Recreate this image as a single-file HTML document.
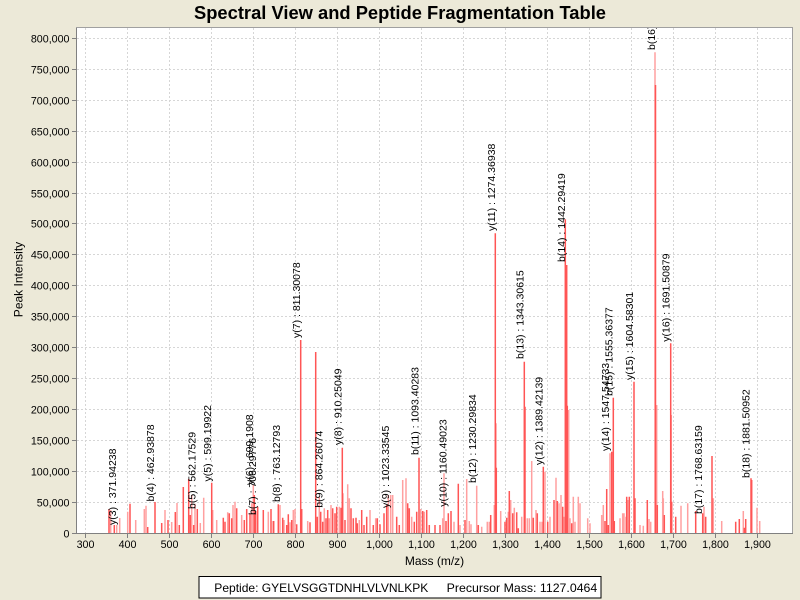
<!DOCTYPE html>
<html><head><meta charset="utf-8"><style>
html,body{margin:0;padding:0;background:#ECE9D8;}
svg{display:block;}
text{font-family:"Liberation Sans",Arial,sans-serif;}
</style></head><body>
<svg width="800" height="600" viewBox="0 0 800 600" xmlns="http://www.w3.org/2000/svg">
<rect x="0" y="0" width="800" height="600" fill="#ECE9D8"/>
<text x="400" y="19" text-anchor="middle" font-size="18" font-weight="bold" textLength="412" lengthAdjust="spacingAndGlyphs" fill="#000">Spectral View and Peptide Fragmentation Table</text>
<defs><clipPath id="pc"><rect x="77" y="28" width="716" height="506"/></clipPath></defs>
<rect x="76.5" y="27.5" width="716" height="506" fill="#fff" stroke="#a0a0a0" stroke-width="1"/>
<g stroke="#d6d6d6" stroke-width="1" stroke-dasharray="2,2" shape-rendering="crispEdges">
<path d="M77 38.5H792M77 69.5H792M77 100.5H792M77 131.5H792M77 162.5H792M77 193.5H792M77 223.5H792M77 254.5H792M77 285.5H792M77 316.5H792M77 347.5H792M77 378.5H792M77 409.5H792M77 440.5H792M77 471.5H792M77 502.5H792"/>
<path d="M85.5 28V533M127.5 28V533M169.5 28V533M211.5 28V533M253.5 28V533M295.5 28V533M337.5 28V533M379.5 28V533M421.5 28V533M463.5 28V533M505.5 28V533M547.5 28V533M589.5 28V533M631.5 28V533M673.5 28V533M715.5 28V533M757.5 28V533"/>
</g>
<g clip-path="url(#pc)" fill="none" stroke-width="1.5">
<path stroke="#ffa0a0" d="M110.7 533V510M116.7 533V525M119.7 533V518M127.7 533V511.7M135.7 533V520M144.3 533V509M146 533V505.7M165 533V510M171.7 533V522M177 533V503M191.7 533V495M195 533V503.7M200.3 533V523M203.7 533V497.7M212.7 533V510M216.7 533V520M227.7 533V512.3M233 533V505M235 533V501.7M241.7 533V515M251.7 533V503.3M253.3 533V485M268.3 533V511.7M274 533V521M280 533V505M284 533V520M290 533V522.3M293.3 533V510M295 533V509M307.7 533V521M319.3 533V496.7M324.3 533V508.3M329.3 533V518.3M331 533V505M339.3 533V506.7M343 533V493.3M347.7 533V484.3M349.3 533V498.3M359.3 533V520M370 533V510M375.7 533V518.3M388.3 533V495M390.7 533V495M392.7 533V495M402.7 533V480M406 533V478.3M411.7 533V516.7M420.7 533V509M424.3 533V511.7M442.7 533V518.3M444 533V473.3M454 533V521.7M460 533V525M466.7 533V479M469.3 533V521M471 533V524.3M476.7 533V485.7M481.7 533V526.7M487.3 533V521.7M489.3 533V521.7M494.3 533V505M496 533V423.3M500.7 533V511M508.3 533V511.7M510.7 533V500M514.3 533V507.7M521.7 533V516.7M527.3 533V518.3M529.3 533V518.3M531.7 533V461M536 533V510M540 533V521.7M542 533V521.7M545 533V471.7M550 533V516.7M556 533V477.7M559 533V503.3M561 533V495M564 533V516.7M568.7 533V410M570 533V518.3M573.3 533V496.7M575 533V521.7M578.3 533V496.7M580 533V503.3M587.7 533V518.3M590 533V523.3M601.7 533V515M603.3 533V505M610 533V453.3M620 533V518.3M622.7 533V513.3M624 533V513.3M626 533V516.7M627.7 533V500M628.3 533V520M640 533V525M643.3 533V525.7M649 533V519M650.7 533V521.7M655 533V52.3M656.7 533V405M662.7 533V491M663.3 533V498.3M681 533V505.7M687.7 533V503.3M704 533V506.7M713.3 533V498.3M721.7 533V521M743.3 533V511M757 533V507.7M759.7 533V521"/>
<path stroke="#ff5555" d="M109 533V509M114.3 533V525M130 533V503.7M147.7 533V527M155 533V502M161.7 533V523M168 533V520M175.3 533V512M179.3 533V525M183.3 533V487M188.7 533V479M190.3 533V515M193.7 533V525M197.3 533V509M211.7 533V482.7M223.3 533V517.7M225 533V521.7M229.3 533V513.3M231.7 533V518.3M236.7 533V508.3M244.3 533V520M246.7 533V509M250 533V513.3M254.3 533V495M255.7 533V511M257.7 533V506.7M263.3 533V510M273.3 533V521M271 533V509M278.3 533V504.3M282.7 533V517.7M286.7 533V525M288.3 533V514.3M291.7 533V520M296.7 533V524.3M300.7 533V340M301.7 533V509M310 533V522.3M315.7 533V352M317.3 533V516.7M320.7 533V511.7M322.7 533V521.7M326 533V518.3M327.7 533V510M332.7 533V508.3M335 533V513.3M336.7 533V506.7M341 533V507.7M342.3 533V447.7M345 533V520M351 533V508.3M353.3 533V518.3M356 533V517.7M357.3 533V523.3M361.7 533V510M364 533V525M366.7 533V516.7M373.3 533V525M377.3 533V518.3M380 533V524.3M384 533V513.3M386.7 533V505M396.7 533V516.7M399.3 533V525M407.7 533V503.3M409.3 533V508.3M414.3 533V521.7M416.7 533V511.7M419 533V457.7M422.7 533V511M426.7 533V510M429.3 533V525M435 533V525M440 533V525M446 533V521M448.3 533V513.3M451 533V511M458.3 533V483.7M465 533V520M478.3 533V525M490.7 533V515M495.3 533V233.3M496.3 533V467.7M505 533V521.7M506.7 533V517.7M509.3 533V491M512.7 533V513.3M516.7 533V512.3M518.3 533V528.3M524.3 533V361.7M525 533V406.7M533.3 533V517.7M537.3 533V513.3M543.3 533V466.7M547.7 533V521.7M554 533V500M557.3 533V501M562.7 533V506.7M565.3 533V219.3M566.7 533V265M567.3 533V405.7M571.7 533V523.3M605 533V521M606.7 533V489M608.3 533V525M611.7 533V451.7M613.3 533V397.7M614.3 533V521M629.3 533V496.7M626.7 533V496.7M634 533V381.7M635 533V498.3M647.3 533V500M655.5 533V85M657.3 533V505M664.3 533V515M670.7 533V343.3M671 533V415M671.7 533V501.7M675.7 533V516.7M695.7 533V511M702.7 533V513.3M705.7 533V516.7M712 533V456M735.7 533V521.7M739.3 533V519M744.3 533V527.7M745.7 533V519M751 533V478.3M751.7 533V480"/>
</g>
<g clip-path="url(#pc)" font-size="10.5" fill="#000">
<text transform="translate(116,525) rotate(-90)">y(3) : 371.94238</text>
<text transform="translate(154,501.5) rotate(-90)">b(4) : 462.93878</text>
<text transform="translate(195.5,509) rotate(-90)">b(5) : 562.17529</text>
<text transform="translate(211,481.5) rotate(-90)">y(5) : 599.19922</text>
<text transform="translate(253,485) rotate(-90)">y(6) : 699.1908</text>
<text transform="translate(256,515) rotate(-90)">b(7) : 706.29776</text>
<text transform="translate(280,502) rotate(-90)">b(8) : 763.12793</text>
<text transform="translate(300,338) rotate(-90)">y(7) : 811.30078</text>
<text transform="translate(322.3,507.7) rotate(-90)">b(9) : 864.26074</text>
<text transform="translate(341.6,445) rotate(-90)">y(8) : 910.25049</text>
<text transform="translate(389,508) rotate(-90)">y(9) : 1023.33545</text>
<text transform="translate(418.5,455) rotate(-90)">b(11) : 1093.40283</text>
<text transform="translate(446.6,506.7) rotate(-90)">y(10) : 1160.49023</text>
<text transform="translate(476,483) rotate(-90)">b(12) : 1230.29834</text>
<text transform="translate(494.8,231) rotate(-90)">y(11) : 1274.36938</text>
<text transform="translate(523.4,359) rotate(-90)">b(13) : 1343.30615</text>
<text transform="translate(542.7,465) rotate(-90)">y(12) : 1389.42139</text>
<text transform="translate(565,262) rotate(-90)">b(14) : 1442.29419</text>
<text transform="translate(609,451) rotate(-90)">y(14) : 1547.54733</text>
<text transform="translate(612.4,396) rotate(-90)">b(15) : 1555.36377</text>
<text transform="translate(633,380) rotate(-90)">y(15) : 1604.58301</text>
<text transform="translate(655,50) rotate(-90)">b(16) : 1656.44897</text>
<text transform="translate(669.5,341.7) rotate(-90)">y(16) : 1691.50879</text>
<text transform="translate(702,514) rotate(-90)">b(17) : 1768.63159</text>
<text transform="translate(749.3,478) rotate(-90)">b(18) : 1881.50952</text>
</g>
<g stroke="#808080" stroke-width="1" shape-rendering="crispEdges">
<path d="M76.5 28V534M76 533.5H793"/>
<path d="M72 38.5H76M72 69.5H76M72 100.5H76M72 131.5H76M72 162.5H76M72 193.5H76M72 223.5H76M72 254.5H76M72 285.5H76M72 316.5H76M72 347.5H76M72 378.5H76M72 409.5H76M72 440.5H76M72 471.5H76M72 502.5H76M72 533.5H76"/>
<path d="M85.5 534V538M127.5 534V538M169.5 534V538M211.5 534V538M253.5 534V538M295.5 534V538M337.5 534V538M379.5 534V538M421.5 534V538M463.5 534V538M505.5 534V538M547.5 534V538M589.5 534V538M631.5 534V538M673.5 534V538M715.5 534V538M757.5 534V538"/>
</g>
<g font-size="10.7" fill="#000" text-anchor="end">
<text x="69.5" y="42.3">800,000</text>
<text x="69.5" y="73.3">750,000</text>
<text x="69.5" y="104.3">700,000</text>
<text x="69.5" y="135.3">650,000</text>
<text x="69.5" y="166.3">600,000</text>
<text x="69.5" y="197.3">550,000</text>
<text x="69.5" y="227.3">500,000</text>
<text x="69.5" y="258.3">450,000</text>
<text x="69.5" y="289.3">400,000</text>
<text x="69.5" y="320.3">350,000</text>
<text x="69.5" y="351.3">300,000</text>
<text x="69.5" y="382.3">250,000</text>
<text x="69.5" y="413.3">200,000</text>
<text x="69.5" y="444.3">150,000</text>
<text x="69.5" y="475.3">100,000</text>
<text x="69.5" y="506.3">50,000</text>
<text x="69.5" y="537.3">0</text>
</g>
<g font-size="10.7" fill="#000" text-anchor="middle">
<text x="85.5" y="548">300</text>
<text x="127.5" y="548">400</text>
<text x="169.5" y="548">500</text>
<text x="211.5" y="548">600</text>
<text x="253.5" y="548">700</text>
<text x="295.5" y="548">800</text>
<text x="337.5" y="548">900</text>
<text x="379.5" y="548">1,000</text>
<text x="421.5" y="548">1,100</text>
<text x="463.5" y="548">1,200</text>
<text x="505.5" y="548">1,300</text>
<text x="547.5" y="548">1,400</text>
<text x="589.5" y="548">1,500</text>
<text x="631.5" y="548">1,600</text>
<text x="673.5" y="548">1,700</text>
<text x="715.5" y="548">1,800</text>
<text x="757.5" y="548">1,900</text>
</g>
<text x="434.5" y="565" font-size="12" text-anchor="middle" fill="#000">Mass (m/z)</text>
<text transform="translate(22.5,279.5) rotate(-90)" font-size="12" text-anchor="middle" fill="#000">Peak Intensity</text>
<rect x="199" y="576.5" width="402" height="21.5" fill="#fff" stroke="#000" stroke-width="1"/>
<text x="214.3" y="592" font-size="12" fill="#000" textLength="214" lengthAdjust="spacingAndGlyphs">Peptide: GYELVSGGTDNHLVLVNLKPK</text>
<text x="446.7" y="592" font-size="12" fill="#000" textLength="150.6" lengthAdjust="spacingAndGlyphs">Precursor Mass: 1127.0464</text>
</svg>
</body></html>
